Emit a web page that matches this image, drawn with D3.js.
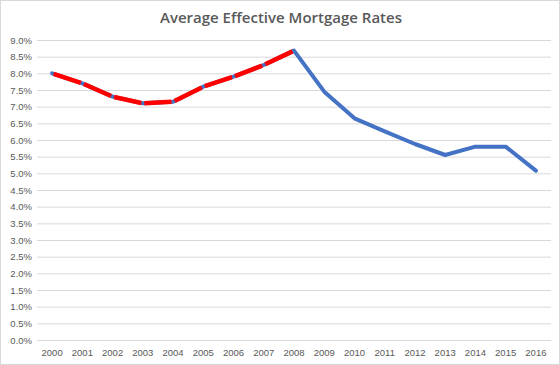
<!DOCTYPE html>
<html><head><meta charset="utf-8">
<script src="https://cdn.jsdelivr.net/npm/d3@7"></script>
<style>body{margin:0;background:#fff}svg{display:block}</style>
</head><body>
<svg id="c" width="560" height="365"></svg>
<script>
const years = ["2000","2001","2002","2003","2004","2005","2006","2007","2008","2009","2010","2011","2012","2013","2014","2015","2016"];
const rates = [8.0,7.7,7.3,7.1,7.15,7.6,7.9,8.25,8.68,7.45,6.65,6.26,5.88,5.55,5.8,5.8,5.08];
const highlightYears = ["2000","2001","2002","2003","2004","2005","2006","2007","2008"];
const yTicks = [0,0.5,1,1.5,2,2.5,3,3.5,4,4.5,5,5.5,6,6.5,7,7.5,8,8.5,9];
const title = "Average Effective Mortgage Rates";

const svg = d3.select("#c");
const W = 560, H = 365;
const m = {l:37, r:9, t:40, b:25};
svg.append("rect").attr("x",0.5).attr("y",0.5).attr("width",W-1).attr("height",H-1)
  .attr("fill","#fff").attr("stroke","#d9d9d9");

const x = d3.scaleBand().domain(years).range([m.l, W-m.r]);
const y = d3.scaleLinear().domain([0,9]).range([H-m.b, m.t]);

const font = "Liberation Sans, Arial, sans-serif";

svg.append("text").attr("x",W/2+1).attr("y",23).attr("text-anchor","middle")
  .attr("font-family","Open Sans, sans-serif").attr("font-size",15).attr("font-weight",600)
  .attr("fill","#595959")
  .text(title);

const yAxis = d3.axisLeft(y).tickValues(yTicks).tickSize(-(W-m.l-m.r)).tickFormat(d=>d.toFixed(1)+"%");
const gy = svg.append("g").attr("transform",`translate(${m.l},0)`).call(yAxis);
gy.select(".domain").remove();
gy.selectAll(".tick line").attr("stroke","#d9d9d9");
gy.selectAll(".tick text").attr("x",-5).attr("fill","#595959").attr("font-family",font).attr("font-size",9.5);

const xAxis = d3.axisBottom(x).tickSize(0);
const gx = svg.append("g").attr("transform",`translate(0,${H-m.b})`).call(xAxis);
gx.select(".domain").remove();
gx.selectAll(".tick text").attr("dy",13).attr("fill","#595959").attr("font-family",font).attr("font-size",9.5);

const px = d => x(d) + x.bandwidth()/2;
const data = years.map((yr,i)=>({yr, v:rates[i]}));
const line = d3.line().x(d=>px(d.yr)).y(d=>y(d.v));
svg.append("path").datum(data).attr("d",line).attr("fill","none")
  .attr("stroke","#4472C4").attr("stroke-width",4).attr("stroke-linejoin","round").attr("stroke-linecap","round");

const hl = data.filter(d=>highlightYears.includes(d.yr));
const segs = d3.pairs(hl);
svg.append("g").selectAll("line").data(segs).join("line")
  .attr("x1",d=>px(d[0].yr)+1.5)
  .attr("y1",d=>y(d[0].v)+ (y(d[1].v)-y(d[0].v))*1.5/(px(d[1].yr)-px(d[0].yr)))
  .attr("x2",d=>px(d[1].yr)-1.5)
  .attr("y2",d=>y(d[1].v)- (y(d[1].v)-y(d[0].v))*1.5/(px(d[1].yr)-px(d[0].yr)))
  .attr("stroke","#FF0000").attr("stroke-width",4.5).attr("stroke-linecap","butt");
</script>
</body></html>
